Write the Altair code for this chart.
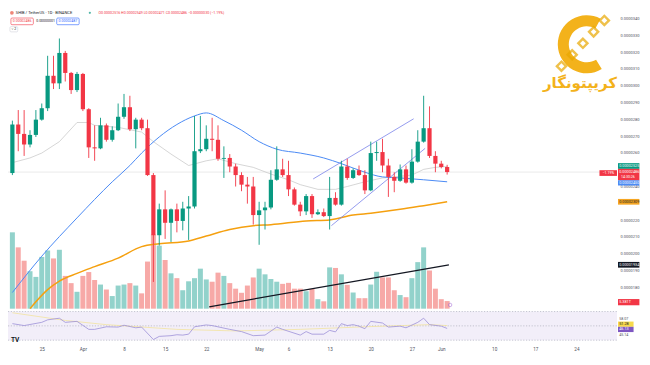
import altair as alt
import pandas as pd

# ---------------- data (prices in micro-USDT = x 1e-6, volume in trillions) ----------------
start_day = "2024-03-20"
opens = [24.80, 27.69, 27.13, 26.50, 27.07, 27.98, 28.66, 30.59, 30.14, 31.95,
         30.76, 29.74, 30.70, 28.60, 26.33, 26.27, 27.64, 26.78, 27.35, 28.15,
         28.72, 27.41, 27.98, 27.47, 24.68, 21.10, 22.64, 21.84, 22.64, 21.95,
         22.69, 22.81, 26.10, 26.22, 26.84, 26.78, 25.65, 25.70, 25.19, 24.68,
         24.11, 24.00, 22.30, 22.58, 22.75, 24.40, 25.02, 24.68, 23.83, 22.92,
         22.52, 23.43, 22.35, 22.47, 22.24, 23.32, 22.92, 25.19, 24.51, 24.97,
         24.68, 23.77, 25.99, 26.05, 25.25, 24.57, 24.34, 25.02, 24.23, 25.48,
         26.67, 27.47, 25.82, 25.36, 25.16]
highs = [27.92, 28.55, 28.55, 27.35, 28.55, 28.94, 31.78, 31.78, 32.81, 32.07,
         30.82, 30.82, 30.76, 28.66, 27.64, 28.09, 27.75, 27.58, 28.94, 29.51,
         29.40, 28.09, 28.09, 27.98, 24.80, 22.98, 23.77, 22.69, 22.98, 23.09,
         23.43, 28.20, 28.20, 27.64, 28.09, 27.64, 26.39, 25.93, 25.36, 24.85,
         24.57, 24.57, 23.09, 23.09, 24.97, 26.39, 25.65, 25.53, 23.94, 23.09,
         23.55, 23.55, 22.64, 22.69, 24.57, 23.66, 25.53, 25.65, 25.08, 25.25,
         24.97, 26.67, 26.67, 26.84, 25.65, 24.85, 25.31, 25.25, 26.22, 27.35,
         29.40, 28.77, 26.10, 25.53, 25.29]
lows = [24.68, 26.10, 25.82, 26.33, 26.95, 27.92, 28.49, 29.80, 29.80, 30.25,
        29.51, 29.62, 28.49, 25.70, 25.53, 26.22, 26.67, 26.67, 27.30, 28.03,
        27.30, 26.27, 27.35, 24.63, 18.32, 20.48, 20.88, 20.70, 21.27, 21.39,
        20.82, 22.69, 25.99, 26.10, 26.10, 25.53, 24.51, 24.85, 24.00, 23.72,
        22.98, 21.73, 20.53, 21.44, 22.64, 24.34, 24.57, 23.43, 22.86, 22.24,
        22.30, 22.13, 22.30, 22.18, 21.44, 22.86, 22.86, 24.40, 24.45, 24.63,
        23.55, 23.72, 25.53, 24.85, 23.38, 23.66, 24.28, 24.17, 24.17, 25.42,
        26.61, 25.70, 24.85, 25.08, 24.71]
closes = [27.69, 27.13, 26.50, 27.07, 27.98, 28.66, 30.59, 30.14, 31.95, 30.76,
          29.74, 30.70, 28.60, 26.33, 26.27, 27.64, 26.78, 27.35, 28.15, 28.72,
          27.41, 27.98, 27.47, 24.68, 21.10, 22.64, 21.84, 22.64, 21.95, 22.69,
          22.81, 26.10, 26.22, 26.84, 26.78, 25.65, 25.70, 25.19, 24.68, 24.11,
          24.00, 22.30, 22.58, 22.75, 24.40, 25.02, 24.68, 23.83, 22.92, 22.52,
          23.43, 22.35, 22.47, 22.24, 23.32, 22.92, 25.19, 24.51, 24.97, 24.68,
          23.77, 25.99, 26.05, 25.25, 24.57, 24.34, 25.02, 24.23, 25.48, 26.67,
          27.47, 25.82, 25.36, 25.16, 24.86]
volumes = [53.8, 43.2, 33.8, 26.4, 22.4, 36.5, 41.0, 35.4, 41.5, 23.1,
           18.0, 11.9, 23.1, 25.8, 20.2, 17.0, 13.5, 8.9, 16.3, 17.0,
           18.0, 16.3, 10.8, 33.2, 52.3, 44.4, 34.3, 24.9, 21.5, 13.0,
           19.3, 21.5, 28.2, 20.6, 19.0, 25.4, 23.1, 18.0, 14.1, 11.2,
           16.3, 22.0, 28.2, 24.2, 20.9, 19.0, 17.5, 18.2, 14.1, 14.1,
           12.3, 14.1, 6.7, 5.2, 29.1, 28.7, 24.2, 16.8, 11.4, 7.4,
           7.4, 17.0, 26.0, 22.0, 22.0, 13.0, 9.6, 8.1, 21.5, 32.8,
           43.2, 26.9, 14.1, 6.7, 5.38]

gray_ma_idx = [0, 3, 5, 8, 11, 13, 14, 18, 22, 24, 27, 30, 33, 35, 38, 41, 44, 47, 49, 52,
               55, 57, 60, 63, 65, 68, 70, 72, 74]
gray_ma_val = [25.42, 25.70, 25.99, 26.67, 27.81, 27.81, 27.64, 27.52, 27.24, 26.67,
               25.93, 25.25, 25.53, 25.65, 25.36, 25.14, 24.74, 24.40, 24.11, 23.83,
               23.83, 24.00, 24.28, 24.51, 24.57, 24.68, 25.02, 25.14, 25.19]
blue_ma_idx = [0, 5, 11, 17, 20, 22, 25, 28, 31, 33, 36, 39, 42, 45, 49, 53, 56, 60, 63, 66, 70, 74]
blue_ma_val = [17.69, 19.85, 22.13, 24.28, 25.25, 25.99, 26.95, 27.69, 28.20, 28.38,
               27.92, 27.35, 26.67, 26.22, 25.99, 25.70, 25.36, 24.85, 24.57, 24.51, 24.40, 24.28]
orange_ma_idx = [3, 6, 8, 11, 14, 18, 22, 25, 30, 33, 37, 41, 44, 50, 54, 58, 61, 66, 70, 74]
orange_ma_val = [16.73, 17.86, 18.37, 18.83, 19.23, 19.74, 20.42, 20.59, 20.76, 21.05,
                 21.44, 21.67, 21.73, 21.95, 22.01, 22.30, 22.41, 22.64, 22.86, 23.09]

upper_chan_idx, upper_chan_val = [51.2, 68.3], [24.45, 28.03]
lower_chan_idx, lower_chan_val = [54.3, 70.25], [21.67, 26.27]
black_line_idx, black_line_val = [33.5, 74.3], [16.84, 19.34]

rsi_idx = [0, 2, 5, 6, 8, 9, 11, 13, 14, 16, 18, 19, 21, 22, 24, 25, 27, 28, 29, 30,
           31, 33, 34, 37, 39, 41, 43, 45, 46, 49, 50, 51, 53, 54, 55, 56, 57, 58, 59, 60,
           61, 63, 64, 66, 67, 69, 70, 71, 73, 74]
rsi_val = [53.1, 50.4, 54.9, 58.4, 60.7, 54.9, 56.3, 45.1, 45.1, 48.7, 48.3, 50.9, 47.3, 48.3,
           30.9, 35.3, 36.3, 37.6, 37.1, 38.4, 48.7, 51.3, 50.4, 45.1, 42.0, 36.3, 37.1, 48.3,
           45.1, 37.1, 42.0, 38.4, 38.4, 43.7, 41.6, 53.1, 50.4, 51.7, 49.6, 46.0, 56.3, 54.0,
           48.3, 49.6, 47.3, 54.9, 60.7, 51.7, 49.6, 46.4]
rsi_ma_idx = [0, 9, 16, 28, 38, 49, 60, 71, 74]
rsi_ma_val = [68.3, 57.6, 51.7, 45.1, 42.9, 45.1, 48.7, 51.7, 50.4]

tick_dates = ["2024-03-25", "2024-04-01", "2024-04-08", "2024-04-15", "2024-04-22",
              "2024-05-01", "2024-05-06", "2024-05-13", "2024-05-20", "2024-05-27",
              "2024-06-01", "2024-06-10", "2024-06-17", "2024-06-24"]
# labels hidden behind the coloured tags (17, 23, 25) are left out
price_ticks = [18, 19, 20, 21, 22, 24, 26, 27, 28, 29, 30, 31, 32, 33, 34]
last_price = 24.86

price_tag_txt = ["0.00002525", "0.00002486", "0.00002450", "0.00002309", "0.00001934", "5.381T"]
price_tag_top = [25.39, 25.05, 24.37, 23.26, 19.51, 17.30]
price_tag_bot = [25.05, 24.37, 24.06, 22.92, 19.17, 16.93]
price_tag_mid = [25.22, 24.85, 24.21, 23.09, 19.34, 17.11]

rsi_tag_txt = ["51.28", "46.13"]
rsi_tag_top = [56.0, 48.67]
rsi_tag_bot = [48.67, 41.33]
rsi_tag_mid = [52.33, 45.0]
rsi_plain_txt = ["58.07", "45.14"]
rsi_plain_val = [59.2, 37.6]

# ---------------- styling ----------------
FONT = "Roboto"
UP, DOWN = "#089981", "#F23645"
VUP, VDOWN = "#92D2CB", "#F7A9A7"
GOLD = "#F3B21B"
W, H = 609, 336
SX, SY = W / 625, H / 352


def px(x):
    return x * SX


def py(y):
    return y * SY


base = pd.Timestamp(start_day)


def ms(i):
    return int((base + pd.Timedelta(days=float(i))).timestamp() * 1000)


def msd(d):
    return int(pd.Timestamp(d).timestamp() * 1000)


XS = alt.Scale(type="utc", domain=[ms(0.106), ms(102.06)])
XAX = alt.Axis(values=[msd(d) for d in tick_dates],
               labelExpr="utcdate(datum.value) == 1 ? utcFormat(datum.value, '%b') : utcFormat(datum.value, '%-d')",
               title=None, domain=False, ticks=False, grid=False, labelFont=FONT,
               labelFontSize=4.6, labelColor="#50535E", labelPadding=2.5,
               labelOverlap=False, labelFlush=False)


def X(f="t"):
    return alt.X(f"{f}:T", scale=XS, axis=XAX)


PS = alt.Scale(domain=[14.625, 34.625], nice=False, zero=False)
VS = alt.Scale(domain=[-24.88, 211.84], nice=False, zero=False)
RS = alt.Scale(domain=[24.667, 494.0], nice=False, zero=False)
PAX = alt.Axis(orient="right", values=price_ticks,
               labelExpr="format(datum.value / 1000000, '.7f')", title=None,
               domain=False, ticks=False, grid=False, labelFont=FONT, labelFontSize=4,
               labelColor="#50535E", labelPadding=3, labelAlign="left", labelOverlap=False)

n = len(opens)
candles = pd.DataFrame({"t": [ms(i) for i in range(n)], "o": opens, "h": highs, "l": lows,
                        "c": closes, "vol": volumes, "zero": [0] * n})
candles["cc"] = [UP if c >= o else DOWN for o, c in zip(opens, closes)]
candles["vc"] = [VUP if c >= o else VDOWN for o, c in zip(opens, closes)]


def series(idx, val):
    return pd.DataFrame({"t": [ms(i) for i in idx], "v": val})


def text_at(s, x, y, size, color="#131722", align="left", weight="normal", font=FONT):
    return alt.Chart(pd.DataFrame({"s": [s]})).mark_text(
        align=align, baseline="middle", fontSize=size, font=font, fontWeight=weight, color=color
    ).encode(x=alt.value(x), y=alt.value(y), text="s:N")


def box_at(x0, y0, x1, y1, stroke, fill="white", sw=0.6):
    return alt.Chart(pd.DataFrame({"k": [0]})).mark_rect(
        stroke=stroke, fill=fill, strokeWidth=sw, cornerRadius=1
    ).encode(x=alt.value(x0), x2=alt.value(x1), y=alt.value(y0), y2=alt.value(y1))


def point_at(x, y, **kw):
    return alt.Chart(pd.DataFrame({"k": [0]})).mark_point(**kw).encode(x=alt.value(x), y=alt.value(y))


layers = []

# RSI pane
rsi_band = pd.DataFrame({"a": [70], "b": [30]})
layers.append(alt.Chart(rsi_band).mark_rect(color="#F2EEF9").encode(
    x=alt.value(0), x2=alt.value(W), y=alt.Y("a:Q", scale=RS, axis=None), y2="b:Q"))
layers.append(alt.Chart(pd.DataFrame({"lvl": [70, 50, 30]})).mark_rule(
    color="#A3A6B4", strokeWidth=0.6, strokeDash=[1.2, 1.6]).encode(
    x=alt.value(0), x2=alt.value(W), y=alt.Y("lvl:Q", scale=RS, axis=None)))
layers.append(alt.Chart(series(rsi_ma_idx, rsi_ma_val)).mark_line(
    color="#F3E3A0", strokeWidth=0.8).encode(x=X(), y=alt.Y("v:Q", scale=RS, axis=None)))
layers.append(alt.Chart(series(rsi_idx, rsi_val)).mark_line(
    color="#9D90D8", strokeWidth=0.8).encode(x=X(), y=alt.Y("v:Q", scale=RS, axis=None)))

# volume
layers.append(alt.Chart(candles).mark_bar(size=5.0).encode(
    x=X(), y=alt.Y("vol:Q", scale=VS, axis=None), y2="zero:Q",
    color=alt.Color("vc:N", scale=None)))

# last price line
layers.append(alt.Chart(pd.DataFrame({"v": [last_price]})).mark_rule(
    color="#E3E3E3", strokeWidth=0.8).encode(
    x=alt.value(0), x2=alt.value(W), y=alt.Y("v:Q", scale=PS, axis=None)))

# moving averages
layers.append(alt.Chart(series(gray_ma_idx, gray_ma_val)).mark_line(
    color="#C4C4C4", strokeWidth=0.7).encode(x=X(), y=alt.Y("v:Q", scale=PS, axis=None)))
layers.append(alt.Chart(series(blue_ma_idx, blue_ma_val)).mark_line(
    color="#4C8BF5", strokeWidth=1.0, interpolate="monotone").encode(
    x=X(), y=alt.Y("v:Q", scale=PS, axis=None)))
layers.append(alt.Chart(series(orange_ma_idx, orange_ma_val)).mark_line(
    color="#F5A00F", strokeWidth=1.5, interpolate="monotone").encode(
    x=X(), y=alt.Y("v:Q", scale=PS, axis=None)))

# trend lines
for idx, val, col, sw in [(upper_chan_idx, upper_chan_val, "#7A83EA", 0.8),
                          (lower_chan_idx, lower_chan_val, "#7A83EA", 0.8),
                          (black_line_idx, black_line_val, "#131722", 1.2)]:
    layers.append(alt.Chart(series(idx, val)).mark_line(color=col, strokeWidth=sw).encode(
        x=X(), y=alt.Y("v:Q", scale=PS, axis=None)))

# candles
layers.append(alt.Chart(candles).mark_rule(strokeWidth=0.9).encode(
    x=X(), y=alt.Y("l:Q", scale=PS, axis=PAX), y2="h:Q", color=alt.Color("cc:N", scale=None)))
layers.append(alt.Chart(candles).mark_bar(size=4.2).encode(
    x=X(), y=alt.Y("o:Q", scale=PS, axis=None), y2="c:Q", color=alt.Color("cc:N", scale=None)))

# price-scale tags
TX0, TX1 = px(626), px(648)
ptag = pd.DataFrame({"txt": price_tag_txt, "top": price_tag_top, "bot": price_tag_bot,
                     "mid": price_tag_mid,
                     "fill": [UP, DOWN, "#4C8BF5", "#F5A623", "#131722", DOWN],
                     "tcol": ["white", "white", "white", "#131722", "white", "white"]})
layers.append(alt.Chart(ptag).mark_rect().encode(
    x=alt.value(TX0), x2=alt.value(TX1), y=alt.Y("top:Q", scale=PS, axis=None), y2="bot:Q",
    color=alt.Color("fill:N", scale=None)))
layers.append(alt.Chart(ptag).mark_text(align="left", baseline="middle", fontSize=3.8, font=FONT).encode(
    x=alt.value(TX0 + 1.2), y=alt.Y("mid:Q", scale=PS, axis=None), text="txt:N",
    color=alt.Color("tcol:N", scale=None)))
layers.append(alt.Chart(pd.DataFrame({"v": [24.54], "s": ["14:30:26"]})).mark_text(
    align="left", baseline="middle", fontSize=3.6, font=FONT, color="white").encode(
    x=alt.value(TX0 + 3), y=alt.Y("v:Q", scale=PS, axis=None), text="s:N"))
# left red tag
ltag = pd.DataFrame({"top": [24.97], "bot": [24.63], "mid": [24.80], "s": ["−1.19%"]})
layers.append(alt.Chart(ltag).mark_rect(color=DOWN).encode(
    x=alt.value(px(607)), x2=alt.value(px(625)), y=alt.Y("top:Q", scale=PS, axis=None), y2="bot:Q"))
layers.append(alt.Chart(ltag).mark_text(align="center", baseline="middle", fontSize=3.6,
                                        font=FONT, color="white").encode(
    x=alt.value(px(616)), y=alt.Y("mid:Q", scale=PS, axis=None), text="s:N"))
# volume icon
layers.append(alt.Chart(pd.DataFrame({"t": [ms(74.5)], "v": [16.95]})).mark_point(
    shape="circle", filled=False, color="#A66CD8", size=12, strokeWidth=0.8).encode(
    x=X(), y=alt.Y("v:Q", scale=PS, axis=None)))

# RSI tags
rtag = pd.DataFrame({"txt": rsi_tag_txt, "top": rsi_tag_top, "bot": rsi_tag_bot, "mid": rsi_tag_mid,
                     "fill": ["#F7D94C", "#7E57C2"], "tcol": ["#131722", "white"]})
layers.append(alt.Chart(rtag).mark_rect().encode(
    x=alt.value(TX0), x2=alt.value(px(642)), y=alt.Y("top:Q", scale=RS, axis=None), y2="bot:Q",
    color=alt.Color("fill:N", scale=None)))
layers.append(alt.Chart(rtag).mark_text(align="left", baseline="middle", fontSize=3.8, font=FONT).encode(
    x=alt.value(TX0 + 1.2), y=alt.Y("mid:Q", scale=RS, axis=None), text="txt:N",
    color=alt.Color("tcol:N", scale=None)))
layers.append(alt.Chart(pd.DataFrame({"txt": rsi_plain_txt, "v": rsi_plain_val})).mark_text(
    align="left", baseline="middle", fontSize=3.6, font=FONT, color="#50535E").encode(
    x=alt.value(TX0 + 1.2), y=alt.Y("v:Q", scale=RS, axis=None), text="txt:N"))

# header legend
layers.append(point_at(px(4), py(5), shape="circle", filled=True, size=14, color="#E8523F"))
layers.append(text_at("SHIB / TetherUS · 1D · BINANCE", px(8), py(5), 4.0))
layers.append(point_at(px(84), py(5), shape="circle", filled=True, size=5, color=UP))
layers.append(text_at("O0.00002516 H0.00002549 L0.00002471 C0.00002486 −0.00000030 (−1.19%)",
                      px(93), py(5), 3.6, color=DOWN))
layers.append(box_at(px(3), py(10.5), px(26), py(17.5), DOWN))
layers.append(text_at("0.00002486", px(14.5), py(14), 3.5, color=DOWN, align="center"))
layers.append(text_at("0.00000001", px(29), py(14), 3.5))
layers.append(box_at(px(50), py(10.5), px(73), py(17.5), "#2962FF"))
layers.append(text_at("0.00002487", px(61.5), py(14), 3.5, color="#2962FF", align="center"))
layers.append(box_at(px(2), py(19.5), px(10), py(25), "#D1D4DC"))
layers.append(text_at("˅ 2", px(6), py(22.3), 3.5, align="center"))

# watermark logo
layers.append(alt.Chart(pd.DataFrame({"k": [0]})).mark_arc(
    theta=2.6, theta2=6.78, innerRadius=18, outerRadius=29, color=GOLD).encode(
    x=alt.value(px(594)), y=alt.value(py(38))))
for lx, ly in [(568, 61), (579, 49), (590, 37), (601, 25), (612, 13)]:
    layers.append(point_at(px(lx), py(ly), shape="square", filled=False, size=42, angle=45,
                           strokeWidth=2.4, color="#E9A800"))
layers.append(text_at("کریپتونگار", px(587), py(79), 15, color=GOLD, align="center",
                      weight="bold", font="DejaVu Sans"))

# TradingView mark
layers.append(text_at("TV", px(3), py(348), 6.5, weight="bold"))

chart = alt.layer(*layers).resolve_scale(y="independent").properties(
    width=W, height=H,
    autosize=alt.AutoSizeParams(type="none"),
    padding={"left": 0, "top": 0, "right": 25, "bottom": 13},
    background="white",
).configure_view(stroke=None)

chart.save("out.html", embed_options={"renderer": "svg", "actions": False})
